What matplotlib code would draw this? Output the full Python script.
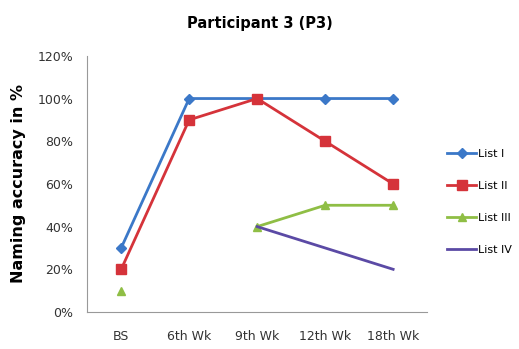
import matplotlib.pyplot as plt
import numpy as np

weeks = ['BS', '6th Wk', '9th Wk', '12th Wk', '18th Wk']
list_1 = [30, 100, 100, 100, 100]
list_2 = [20, 90, 100, 80, 60]
list_3 = [10, np.nan, 40, 50, 50]
list_4 = [np.nan, np.nan, 40, 30, 20]
y_ticks = [0, 20, 40, 60, 80, 100, 120]

fig = plt.figure(figsize=(5.19, 3.49), dpi=100)
ax = fig.add_axes([0.168, 0.106, 0.655, 0.734])

x = np.arange(len(weeks))
ax.plot(x, list_1, color='#3b78c8', lw=2, marker='D', ms=5, label='List I')
ax.plot(x, list_2, color='#d5333a', lw=2, marker='s', ms=7, label='List II')
ax.plot(x, list_3, color='#8fbe45', lw=2, marker='^', ms=6, label='List III')
ax.plot(x, list_4, color='#5b4aa5', lw=2, label='List IV')

ax.set_xlim(-0.5, 4.5)
ax.set_ylim(0, 120)
ax.set_xticks(x)
ax.set_xticklabels(weeks, fontsize=9, color='#333333')
ax.set_yticks(y_ticks)
ax.set_yticklabels([f'{v}%' for v in y_ticks], fontsize=9, color='#333333')
ax.tick_params(length=0)
ax.tick_params(axis='x', pad=13)
ax.tick_params(axis='y', pad=10)
for s in ['top', 'right']:
    ax.spines[s].set_visible(False)
for s in ['left', 'bottom']:
    ax.spines[s].set_color('#999999')
    ax.spines[s].set_linewidth(0.8)

ax.set_ylabel('Naming accuracy in %', fontsize=11.5, fontweight='bold', labelpad=8)
fig.text(0.5, 0.92, 'Participant 3 (P3)', ha='center', fontsize=10.5, fontweight='bold')

ax.legend(loc='center left', bbox_to_anchor=(1.03, 0.43), frameon=False,
          fontsize=8, handlelength=2.6, handletextpad=0.2, labelspacing=2.0)

fig.savefig('out.png', dpi=100)
